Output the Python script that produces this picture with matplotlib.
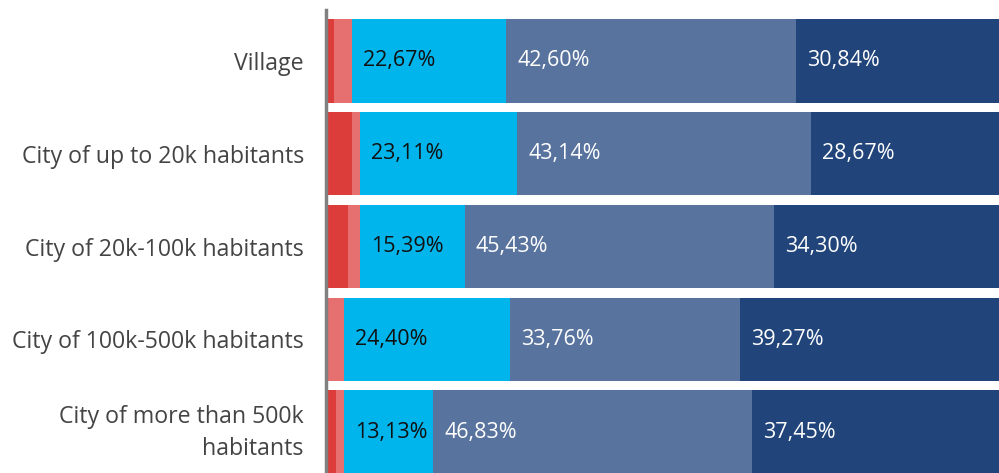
import numpy as np
import matplotlib.pyplot as plt
from matplotlib.transforms import ScaledTranslation

plt.rcParams['font.family'] = ['Open Sans', 'DejaVu Sans']

categories = ["Village", "City of up to 20k habitants", "City of 20k-100k habitants",
              "City of 100k-500k habitants", "City of more than 500k\nhabitants"]

# Anteile in % (die roten Segmente sind geschätzt, ohne Beschriftung)
dark_red = [1.17, 3.82, 3.23, 0.29, 1.47]
light_red = [2.64, 1.17, 1.76, 2.35, 1.17]
cyan = [22.67, 23.11, 15.39, 24.40, 13.13]
slate = [42.60, 43.14, 45.43, 33.76, 46.83]
navy = [30.84, 28.67, 34.30, 39.27, 37.45]

series = [dark_red, light_red, cyan, slate, navy]
colors = ["#DC3D3B", "#E67070", "#00B5EC", "#58739E", "#21457A"]
labeled = [False, False, True, True, True]
text_colors = [None, None, "#111111", "white", "white"]

fig = plt.figure(figsize=(9.99, 4.73), dpi=100)
# Balken laufen rechts etwas über den Bildrand hinaus
ax = fig.add_axes([326 / 999, 0, 681 / 999, 463 / 473])

y = np.arange(len(categories))
left = np.zeros(len(categories))
for vals, col, lab, tcol in zip(series, colors, labeled, text_colors):
    vals = np.array(vals)
    ax.barh(y, vals, left=left, height=0.9, color=col, edgecolor="none")
    if lab:
        for yi, (l, v) in enumerate(zip(left, vals)):
            ax.text(l + 1.6, yi, f"{v:.2f}".replace(".", ",") + "%",
                    va="center", ha="left", fontsize=15.5, color=tcol)
    left += vals

ax.set_xlim(0, 100)
ax.set_ylim(4.44, -0.548)
ax.set_yticks(y)
ax.set_yticklabels(categories, fontsize=16.7, color="#444444")
ax.tick_params(axis="y", length=0, pad=16)
ax.set_xticks([])
for s in ["top", "right", "bottom"]:
    ax.spines[s].set_visible(False)
ax.spines["left"].set_color("#808080")
ax.spines["left"].set_linewidth(2.5)
for t in ax.get_yticklabels():
    t.set_multialignment("right")
    t.set_linespacing(1.45)

# zweizeiliges Label etwas nach oben
last = ax.get_yticklabels()[-1]
last.set_transform(last.get_transform() + ScaledTranslation(0, 0.06, fig.dpi_scale_trans))

fig.savefig("out.png", dpi=100)
